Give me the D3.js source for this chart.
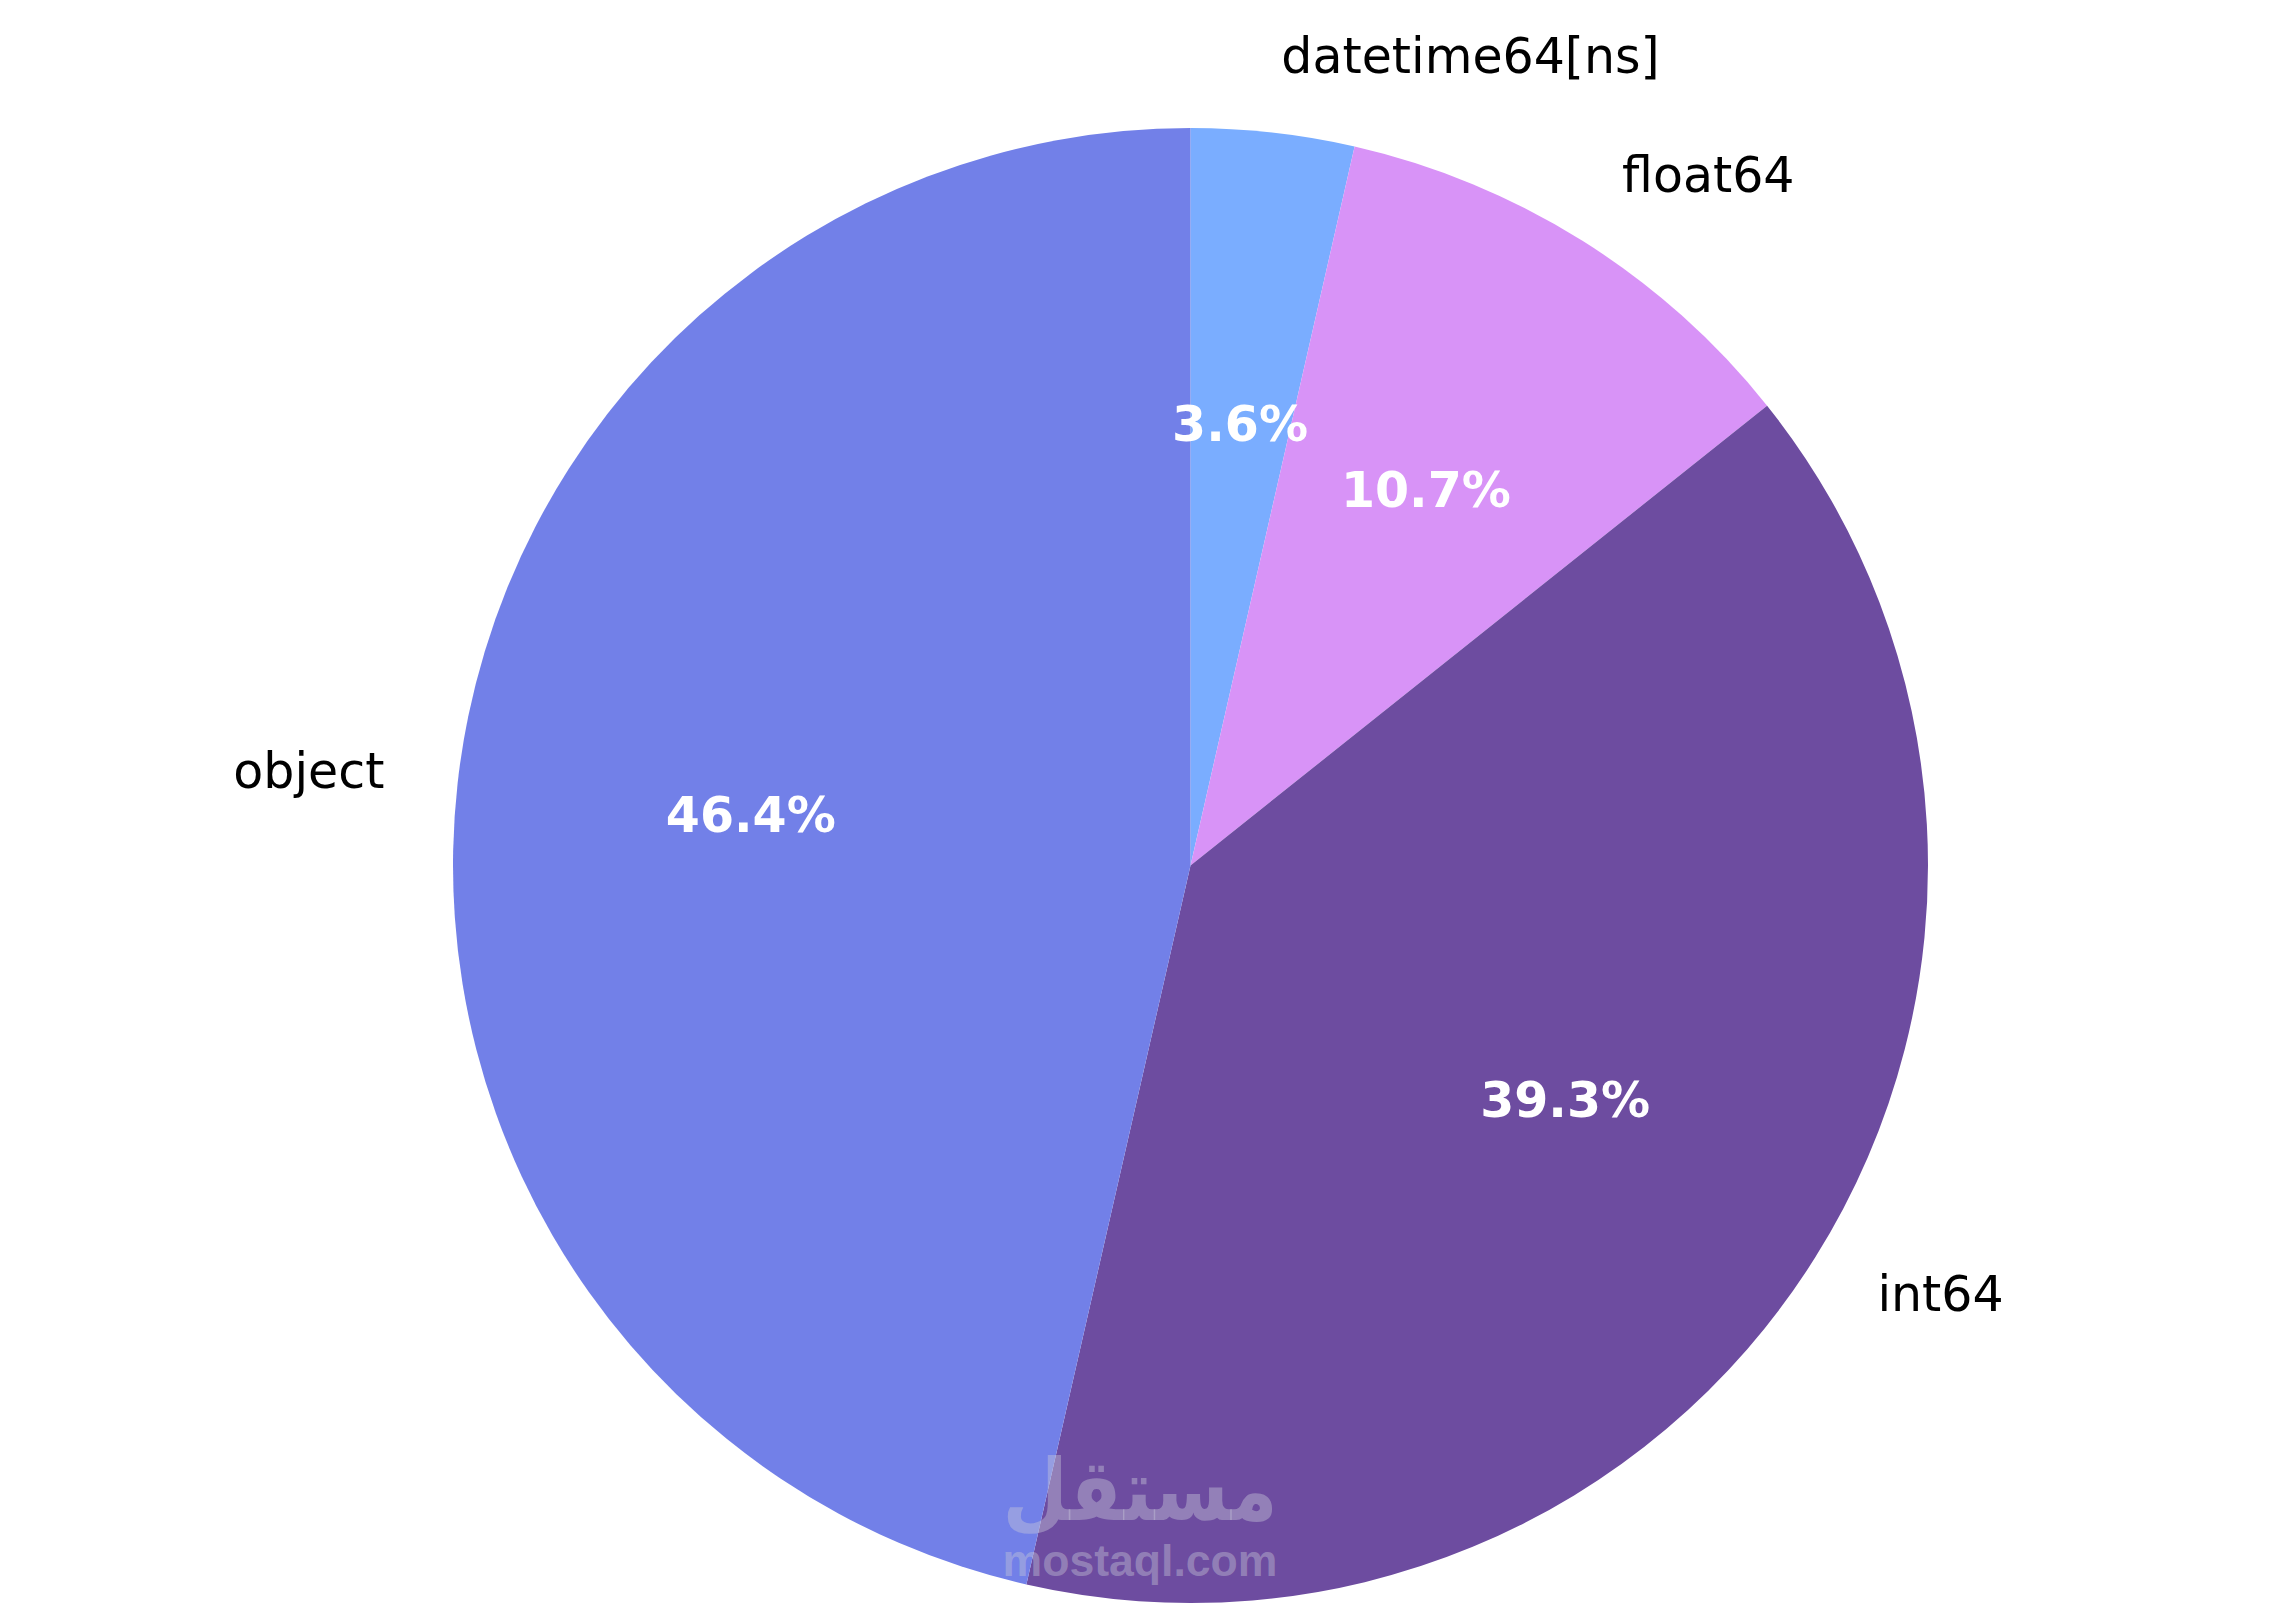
<!DOCTYPE html>
<html>
<head>
<meta charset="utf-8">
<script src="https://cdn.jsdelivr.net/npm/d3@7"></script>
<style>
  body { margin: 0; background: #fff; }
  svg { display: block; }
</style>
</head>
<body>
<div id="canvas"></div>
<script>
const svgWidth = 2280;
const svgHeight = 1612;

// column dtype counts (28 columns in total)
const dtypes = ['datetime64[ns]', 'float64', 'int64', 'object'];
const counts = [1, 3, 11, 13];
const colors = ['#7aadff', '#d893f7', '#6d4ca0', '#7280e8'];

const cx = 1190.5;
const cy = 865.5;
const radius = 737.5;

const svg = d3.select('#canvas').append('svg')
    .attr('width', svgWidth)
    .attr('height', svgHeight);

const data = dtypes.map((d, i) => ({ name: d, value: counts[i], color: colors[i] }));
const total = d3.sum(counts);

const pie = d3.pie().value(d => d.value).sort(null);
const arcs = pie(data);
const arc = d3.arc().innerRadius(0).outerRadius(radius);

const g = svg.append('g').attr('transform', `translate(${cx}, ${cy})`);

g.selectAll('path.slice')
    .data(arcs)
    .join('path')
    .attr('class', 'slice')
    .attr('d', arc)
    .attr('fill', d => d.data.color);

// helper: point at a fraction of the radius along the slice's middle angle
function polar(d, frac) {
    const a = (d.startAngle + d.endAngle) / 2;
    return [Math.sin(a) * radius * frac, -Math.cos(a) * radius * frac];
}

// category labels outside (like matplotlib labeldistance=1.1)
g.selectAll('text.label')
    .data(arcs)
    .join('text')
    .attr('class', 'label')
    .attr('x', d => polar(d, 1.1)[0])
    .attr('y', d => polar(d, 1.1)[1])
    .attr('dy', '0.28em')
    .attr('text-anchor', d => polar(d, 1.1)[0] >= 0 ? 'start' : 'end')
    .attr('font-family', 'DejaVu Sans')
    .attr('font-size', 49)
    .attr('fill', '#000')
    .text(d => d.data.name);

// percentage labels inside
g.selectAll('text.pct')
    .data(arcs)
    .join('text')
    .attr('class', 'pct')
    .attr('x', d => polar(d, 0.6)[0])
    .attr('y', d => polar(d, 0.6)[1])
    .attr('dy', '0.32em')
    .attr('text-anchor', 'middle')
    .attr('font-family', 'DejaVu Sans')
    .attr('font-weight', 'bold')
    .attr('font-size', 49)
    .attr('fill', '#fff')
    .text(d => (d.data.value / total * 100).toFixed(1) + '%');

// watermark
const wm = svg.append('g')
    .attr('fill', '#c8c8d8')
    .attr('fill-opacity', 0.42)
    .attr('text-anchor', 'middle');
wm.append('text')
    .attr('x', 1140)
    .attr('y', 1520)
    .attr('font-family', 'DejaVu Sans')
    .attr('font-weight', 'bold')
    .attr('font-size', 86)
    .attr('textLength', 275)
    .attr('lengthAdjust', 'spacingAndGlyphs')
    .text('مستقل');
wm.append('text')
    .attr('x', 1140)
    .attr('y', 1576)
    .attr('font-family', 'Liberation Sans')
    .attr('font-weight', 'bold')
    .attr('font-size', 44)
    .attr('textLength', 275)
    .attr('lengthAdjust', 'spacingAndGlyphs')
    .text('mostaql.com');
</script>
</body>
</html>
